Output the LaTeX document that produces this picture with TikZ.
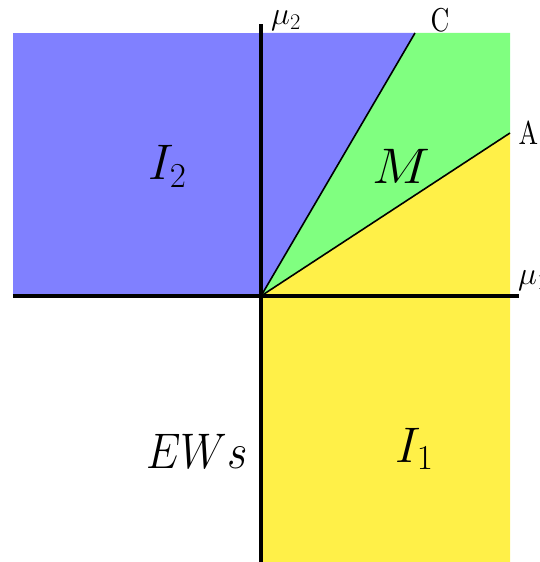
\RequirePackage{fix-cm}
\documentclass[tikz,border=0pt]{standalone}
\usepackage{amsmath,amssymb}
\usepackage{xcolor}
\usetikzlibrary{positioning,calc}

\definecolor{regblue}{RGB}{128,128,255}
\definecolor{reggreen}{RGB}{128,255,128}
\definecolor{regyellow}{RGB}{255,240,72}

\tikzset{
  axis/.style={line width=3.6pt},
  border/.style={line width=1.6pt},
  reglabel/.style={font=\fontsize{50}{54}\selectfont, anchor=base west, inner sep=0pt},
  axislabel/.style={font=\fontsize{32}{34}\selectfont, inner sep=0pt},
  ptlabel/.style={font=\fontsize{10}{12}\selectfont, anchor=base west, inner sep=0pt, xscale=2.6, yscale=3.3}
}

\begin{document}
\begin{tikzpicture}[x=1pt, y=1pt]
  \useasboundingbox (-261, -266) rectangle (278, 296);

  % Corner points
  \coordinate (O) at (0, 0);
  \coordinate (C) at (154, 263);
  \coordinate (A) at (249, 163);

  % Regions
  \fill[regblue] (-248, 0) rectangle (0, 263);
  \fill[regblue] (O) -- (C) -- (0, 263) -- cycle;
  \fill[reggreen] (O) -- (C) -- (249, 263) -- (A) -- cycle;
  \fill[regyellow] (O) -- (A) -- (249, -266) -- (0, -266) -- cycle;

  % Boundaries
  \draw[border] (O) -- (C);
  \draw[border] (O) -- (A);

  % Axes
  \draw[axis] (0, -266) -- (0, 272) coordinate (mu2end);
  \draw[axis] (-248, 0) -- (258, 0) coordinate (mu1end);

  % Labels
  \node[axislabel] (mu2) at (25, 275) {$\mu_2$};
  \node[axislabel, anchor=west] (mu1) at (257, 15) {$\mu_1$};
  \node[ptlabel] (Clab) at (169, 264) {C};
  \node[ptlabel] (Alab) at (257, 151) {A};
  \node[reglabel, xscale=1.1] (M) at (111, 112) {$M$};
  \node[reglabel] (I2) at (-113, 116) {$I_2$};
  \node[reglabel, xscale=0.88] (EWs) at (-115, -172) {$EWs$};
  \node[reglabel] (I1) at (134, -166) {$I_1$};
\end{tikzpicture}
\end{document}
